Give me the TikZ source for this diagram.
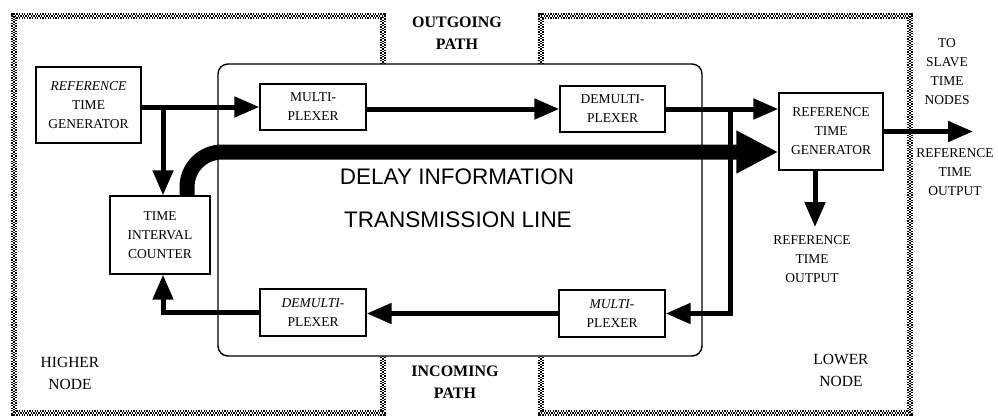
\documentclass[tikz,border=0pt]{standalone}
\usepackage{fontspec}
\setmainfont{Liberation Serif}
\newfontfamily\sansf{Liberation Sans}
\usetikzlibrary{arrows.meta,calc}
\newcommand\boxfont{\fontsize{13.5}{19}\selectfont}
\newcommand\lblfont{\fontsize{15.5}{22}\selectfont}
\newcommand\pathfont{\fontsize{16}{22}\selectfont\bfseries}
\newcommand\bigfont{\fontsize{22.5}{26}\selectfont\sansf}
\tikzset{
  blk/.style={draw, line width=1.4pt, align=center, inner sep=0pt, font=\boxfont},
  arr/.style={line width=5pt, -{Triangle[length=25pt,width=20pt]}},
  band/.style={line width=15pt, -{Triangle[length=42pt,width=40pt]}},
  checkA/.style={line width=5.4pt, black, dash pattern=on 1.3pt off 1.3pt},
  checkW/.style={line width=1.8pt, white},
  checkB/.style={line width=1.8pt, black, dash pattern=on 1.3pt off 1.3pt, dash phase=1.3pt},
  txt/.style={align=center, inner sep=0pt, font=\boxfont},
}
\begin{document}
\begin{tikzpicture}[x=1pt,y=-1pt]
\useasboundingbox (0,0) rectangle (998,420);
% node regions (checkered borders)
\foreach \s in {checkA,checkW,checkB}{
  \draw[\s] (383,64) -- (383,16) -- (14,16) -- (14,413) -- (383,413) -- (383,356);
  \draw[\s] (541,64) -- (541,16) -- (910,16) -- (910,413) -- (541,413) -- (541,356);
}
% transmission line box
\node[draw, line width=1.4pt, rounded corners=10pt, minimum width=484pt, minimum height=292pt, inner sep=0pt] (tl) at (460,210) {};
% blocks
\node[blk, minimum width=105pt, minimum height=76pt] (rtgL) at (88.5,105) {\textit{REFERENCE}\\TIME\\GENERATOR};
\node[blk, minimum width=106pt, minimum height=46pt] (muxT) at (313,107) {MULTI-\\PLEXER};
\node[blk, minimum width=105pt, minimum height=46pt] (demuxT) at (612.5,109) {DEMULTI-\\PLEXER};
\node[blk, minimum width=100pt, minimum height=78pt] (tic) at (160,235) {TIME\\INTERVAL\\COUNTER};
\node[blk, minimum width=106pt, minimum height=47pt] (demuxB) at (313,312.5) {\textit{DEMULTI-}\\PLEXER};
\node[blk, minimum width=106pt, minimum height=47pt] (muxB) at (612,313.5) {\textit{MULTI-}\\PLEXER};
\node[blk, minimum width=104pt, minimum height=77pt] (rtgR) at (831,131.5) {REFERENCE\\TIME\\GENERATOR};
% labels
\node[txt, font=\pathfont] (outp) at (457,33) {OUTGOING\\PATH};
\node[txt, font=\pathfont] (inp) at (455,382) {INCOMING\\PATH};
\node[txt, font=\lblfont] (hn) at (70,373) {HIGHER\\NODE};
\node[txt, font=\lblfont] (ln) at (841,370) {LOWER\\NODE};
\node[txt, font=\bigfont] (dly) at (457,177) {DELAY INFORMATION};
\node[txt, font=\bigfont] (trl) at (458,220) {TRANSMISSION LINE};
\node[txt] (slave) at (947,72) {TO\\SLAVE\\TIME\\NODES};
\node[txt] (rto1) at (955,172) {REFERENCE\\TIME\\OUTPUT};
\node[txt] (rto2) at (812,259) {REFERENCE\\TIME\\OUTPUT};
% junctions
\coordinate (j1) at (163,108);
\coordinate (j2) at (730,109);
\coordinate (j3) at (163,313);
\coordinate (outend) at (973,131.5);
\coordinate (downend) at (815,227);
% connectors
\draw[band, rounded corners=35pt] ([xshift=27pt]tic.north) |- ($(rtgR.west)+(0,20.5)$);
\draw[arr] (rtgL.east |- muxT.west) -- (muxT.west);
\draw[arr] (j1) -- (j1 |- tic.north);
\draw[arr] (muxT.east |- demuxT.west) -- (demuxT.west);
\draw[arr] (demuxT.east) -- (demuxT.east -| rtgR.west);
\draw[arr] (j2) |- (muxB.east);
\draw[arr] (muxB.west) -- (muxB.west -| demuxB.east);
\draw[arr] (demuxB.west) -| (tic.south -| j3);
\draw[arr] (rtgR.east) -- (outend);
\draw[arr] (rtgR.south -| downend) -- (downend);
\end{tikzpicture}
\end{document}
